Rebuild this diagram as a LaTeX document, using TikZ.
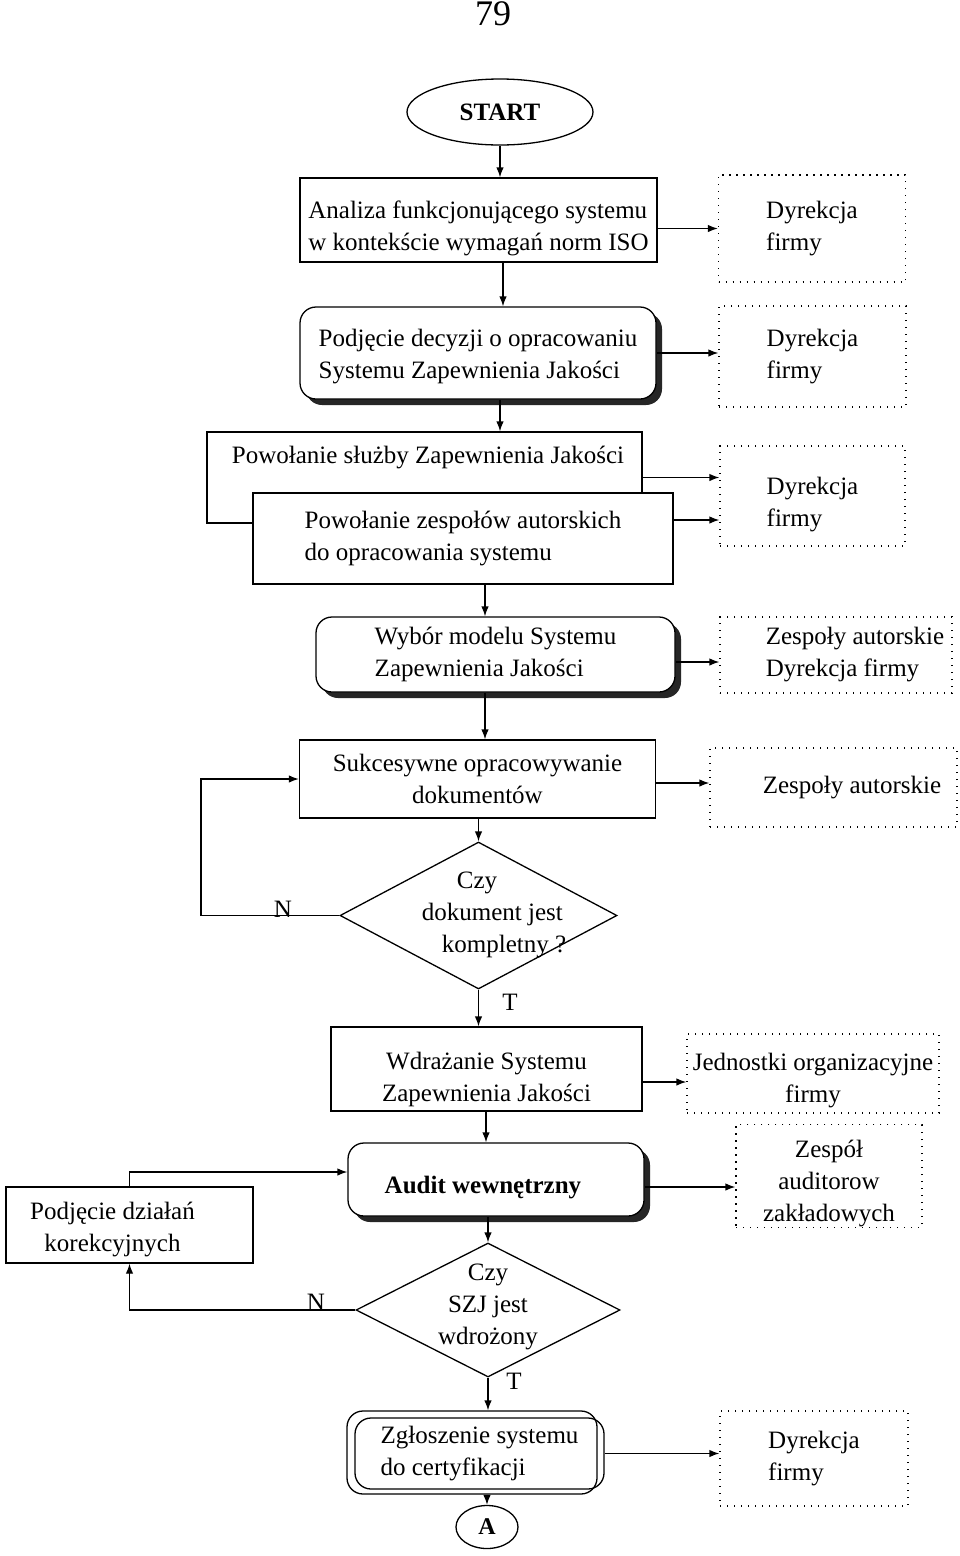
\documentclass[tikz,border=0pt]{standalone}
\usepackage{fontspec}
\setmainfont{Liberation Serif}
\usetikzlibrary{arrows.meta,shapes.geometric,shadows}
\newcommand{\lift}[1]{\rule{0pt}{#1}}
\begin{document}
\begin{tikzpicture}[x=1pt,y=-1pt,
  txt/.style={font=\fontsize{25}{32}\selectfont},
  box/.style={txt, draw, line width=1.3pt, inner sep=0pt, align=center, fill=white},
  rbox/.style={box, rounded corners=16pt, drop shadow={shadow xshift=6pt, shadow yshift=-6pt, fill=black!85, opacity=1}},
  dbox/.style={txt, draw, line width=1.3pt, dash pattern=on 1.4pt off 5.6pt, inner sep=0pt, align=center},
  dia/.style={draw, diamond, line width=1.3pt, inner sep=0pt},
  arr/.style={-{Latex[length=10pt,width=7.5pt]}, line width=1.3pt},
  lab/.style={txt, inner sep=0pt}
]
\useasboundingbox (0,0) rectangle (960,1556);
\fill[white] (0,0) rectangle (960,1556);

% helper coordinates
\coordinate (x503) at (503,0);
\coordinate (x500) at (500,0);
\coordinate (x485) at (485,0);
\coordinate (x486) at (486,0);
\coordinate (x201) at (201,0);
\coordinate (y520) at (0,520);
\coordinate (y662) at (0,662);
\coordinate (y783) at (0,783);
\coordinate (y1082) at (0,1082);
\coordinate (y1187) at (0,1187);
\coordinate (y1172) at (0,1172);

\node[font=\fontsize{36}{36}\selectfont, inner sep=0pt] (page) at (493,14) {79};
\node[draw, ellipse, line width=1.3pt, minimum width=186pt, minimum height=66pt, inner sep=0pt,
      font=\fontsize{25}{30}\selectfont\bfseries] (start) at (500,112) {START};

\node[box, align=left, minimum width=357pt, minimum height=84pt] (b1) at (478.5,220)
  {\lift{35pt}Analiza funkcjonującego systemu\\w kontekście wymagań norm ISO};
\node[rbox, align=left, minimum width=356pt, minimum height=92pt] (b2) at (478,353)
  {\lift{25pt}Podjęcie decyzji o opracowaniu\\Systemu Zapewnienia Jakości};
\node[box, minimum width=435pt, minimum height=91pt] (b3) at (424.5,477.5) {};
\node[lab] (b3t) at (428,457) {Powołanie służby Zapewnienia Jakości};
\node[box, align=left, minimum width=420pt, minimum height=91pt] (b4) at (463,538.5)
  {Powołanie zespołów autorskich\\do opracowania systemu};
\node[rbox, align=left, minimum width=359pt, minimum height=75pt] (b5) at (495.5,654.5)
  {Wybór modelu Systemu\\Zapewnienia Jakości};
\node[box, minimum width=356pt, minimum height=78pt] (b6) at (477.5,779)
  {Sukcesywne opracowywanie\\dokumentów};
\node[dia, minimum width=277pt, minimum height=147pt] (d1) at (478.5,915.5) {};
\node[lab, align=left] (d1t) at (494,915)
  {\hspace*{35pt}Czy\\dokument jest\\\hspace*{20pt}kompletny ?};
\node[box, minimum width=311pt, minimum height=84pt] (b7) at (486.5,1069)
  {\lift{39pt}Wdrażanie Systemu\\Zapewnienia Jakości};
\node[rbox, minimum width=296pt, minimum height=73pt, font=\fontsize{25}{32}\selectfont\bfseries] (au) at (496,1179.5)
  {\lift{33pt}Audit wewnętrzny\hspace*{26pt}};
\node[box, minimum width=247pt, minimum height=76pt] (kor) at (129.5,1225)
  {\lift{27pt}Podjęcie działań\hspace*{34pt}\\korekcyjnych\hspace*{34pt}};
\node[dia, minimum width=264pt, minimum height=134pt] (d2) at (488,1310) {};
\node[lab, align=center] (d2t) at (488,1307) {Czy\\SZJ jest\\wdrożony};
\node[draw, line width=1.3pt, rounded corners=16pt, minimum width=250pt, minimum height=83pt, inner sep=0pt] (zgb) at (472,1452.5) {};
\node[box, fill=none, rounded corners=16pt, align=left, minimum width=249pt, minimum height=71pt] (zg) at (479.5,1453.5)
  {Zgłoszenie systemu\\do certyfikacji};
\node[draw, ellipse, line width=1.3pt, minimum width=62pt, minimum height=43pt, inner sep=0pt,
      font=\fontsize{24}{24}\selectfont\bfseries] (A) at (487,1527) {A};

% dotted responsibility boxes
\node[dbox, align=left, minimum width=187pt, minimum height=107pt] (r1) at (812,228.5) {Dyrekcja\\firmy};
\node[dbox, align=left, minimum width=187pt, minimum height=101pt] (r2) at (812.5,356.5) {Dyrekcja\\firmy};
\node[dbox, align=left, minimum width=185pt, minimum height=100pt] (r3) at (812.5,496) {\lift{35pt}Dyrekcja\\firmy};
\node[dbox, align=left, minimum width=232pt, minimum height=76pt] (r4) at (836,655)
  {\hspace*{38pt}Zespoły autorskie\\\hspace*{38pt}Dyrekcja firmy};
\node[dbox, minimum width=247pt, minimum height=79pt] (r5) at (833.5,787.5) {\hspace*{37pt}Zespoły autorskie};
\node[dbox, minimum width=252pt, minimum height=79pt] (r6) at (813,1073.5) {\lift{31pt}Jednostki organizacyjne\\firmy};
\node[dbox, minimum width=186pt, minimum height=98pt] (r7) at (829,1176) {\lift{33pt}Zespół\\auditorow\\zakładowych};
\node[dbox, align=left, minimum width=188pt, minimum height=95pt] (r8) at (814,1458.5) {Dyrekcja\\firmy};

% main flow
\draw[arr] (start.south) -- (start.south |- b1.north);
\draw[arr] (b1.south -| x503) -- (b2.north -| x503);
\draw[arr] (b2.south -| x500) -- (b3.north -| x500);
\draw[arr] (b4.south -| x485) -- (b5.north -| x485);
\draw[arr] (b5.south -| x485) -- (b6.north -| x485);
\draw[arr] (b6.south -| d1.north) -- (d1.north);
\draw[arr] (d1.south) -- (d1.south |- b7.north);
\node[lab] (t1) at (510,1002) {T};
\draw[arr] (b7.south -| x486) -- (au.north -| x486);
\draw[arr] (au.south -| d2.north) -- (d2.north);
\draw[arr] (d2.south) -- (d2.south |- zgb.north);
\node[lab] (t2) at (514,1381) {T};
\draw[arr] (zgb.south -| A.north) -- (A.north);

% loops
\draw[arr] (d1.west) -- (d1.west -| x201) -- (x201 |- b6.west) -- (b6.west);
\node[lab] (n1) at (283,909) {N};
\draw[arr] (kor.north) -- (kor.north |- y1172) -- (au.west |- y1172);
\draw[arr] (d2.west) -- (d2.west -| kor.south) -- (kor.south);
\node[lab] (n2) at (316,1302) {N};

% responsibility arrows
\draw[arr] (b1.east |- r1.west) -- (r1.west);
\draw[arr] (b2.east) -- (b2.east -| r2.west);
\draw[arr] (b3.east) -- (b3.east -| r3.west);
\draw[arr] (b4.east |- y520) -- (r3.west |- y520);
\draw[arr] (b5.east |- y662) -- (r4.west |- y662);
\draw[arr] (b6.east |- y783) -- (r5.west |- y783);
\draw[arr] (b7.east |- y1082) -- (r6.west |- y1082);
\draw[arr] (au.east |- y1187) -- (r7.west |- y1187);
\draw[arr] (zg.east) -- (zg.east -| r8.west);
\end{tikzpicture}
\end{document}
